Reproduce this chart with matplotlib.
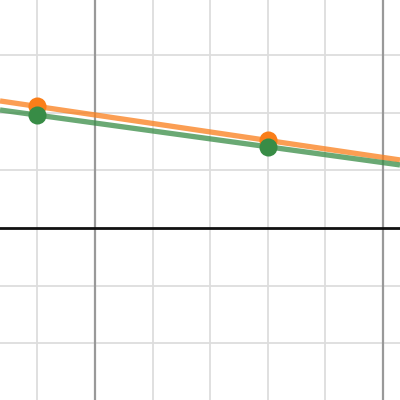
import numpy as np
import matplotlib.pyplot as plt

# data
orange_x = [4, 8]
orange_y = [2.11, 1.52]
green_x = [4, 8]
green_y = [1.96, 1.41]
orange_line = (-0.1475, 2.70)  # slope, intercept
green_line = (-0.1375, 2.51)

x_lim = (3.351, 10.295)
y_lim = (-2.986, 3.958)

fig = plt.figure(figsize=(4, 4), dpi=100)
ax = fig.add_axes([0, 0, 1, 1])
ax.set_xlim(*x_lim)
ax.set_ylim(*y_lim)
ax.axis('off')

# grid
for gx in range(4, 11):
    if gx % 5 == 0:
        ax.axvline(gx, color='#999999', lw=1.6, zorder=1)
    else:
        ax.axvline(gx, color='#dddddd', lw=1.3, zorder=0)
for gy in range(-2, 4):
    if gy == 0:
        continue
    ax.axhline(gy, color='#dddddd', lw=1.3, zorder=0)
ax.axhline(0, color='#111111', lw=2.0, zorder=2)

# lines
xs = np.array(x_lim)
ax.plot(xs, orange_line[0] * xs + orange_line[1], color='#fa7e19', lw=3.8, alpha=0.75, zorder=3, solid_capstyle='butt')
ax.plot(xs, green_line[0] * xs + green_line[1], color='#388c46', lw=3.8, alpha=0.75, zorder=3, solid_capstyle='butt')

# points
ax.plot(orange_x, orange_y, 'o', color='#fa7e19', ms=13, mew=0, zorder=4)
ax.plot(green_x, green_y, 'o', color='#388c46', ms=13, mew=0, zorder=5)

fig.savefig('out.png', dpi=100)
